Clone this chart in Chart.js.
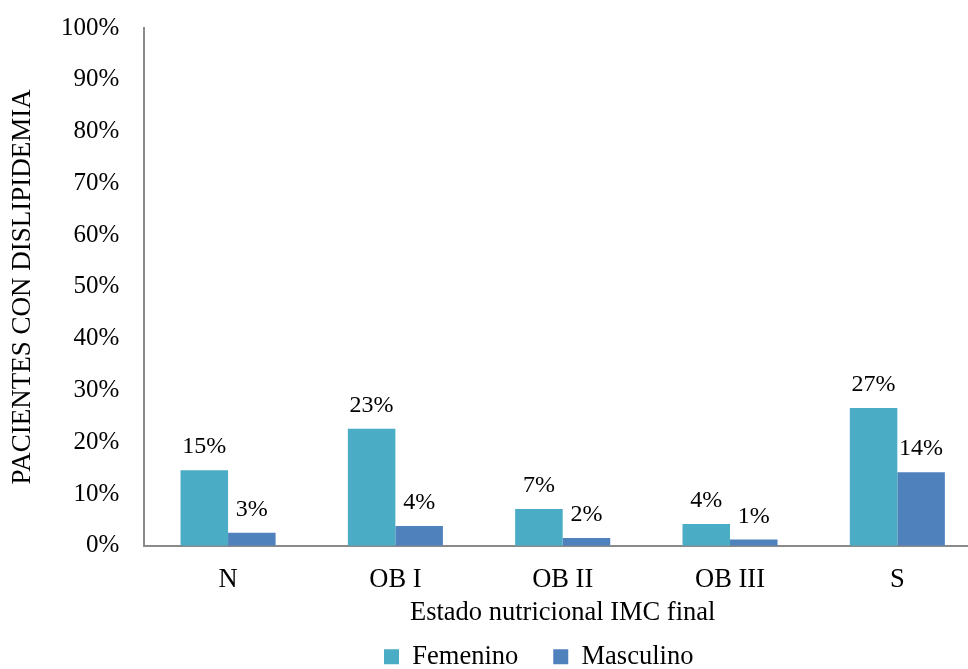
<!DOCTYPE html>
<html>
<head>
<meta charset="utf-8">
<script src="https://cdn.jsdelivr.net/npm/chart.js@4/dist/chart.umd.min.js"></script>
<style>
  html, body { margin: 0; padding: 0; background: #ffffff; overflow: hidden; }
  #wrap { width: 968px; height: 669px; overflow: hidden; }
</style>
</head>
<body>
<div id="wrap"><canvas id="chart" width="981" height="680"></canvas></div>
<script>
// Estado nutricional (IMC final) de pacientes con dislipidemia, por sexo
const categories = ['N', 'OB I', 'OB II', 'OB III', 'S'];
const femenino  = [14.6, 22.6, 7.1, 4.2, 26.6];
const masculino = [2.5, 3.8, 1.5, 1.2, 14.2];
const yTicks = [0, 10, 20, 30, 40, 50, 60, 70, 80, 90, 100];

const FONT = "'Liberation Serif', 'Times New Roman', serif";

// Percent labels written above each bar
const barValueLabels = {
  id: 'barValueLabels',
  afterDatasetsDraw(chart) {
    const ctx = chart.ctx;
    ctx.save();
    ctx.font = '24px ' + FONT;
    ctx.fillStyle = '#000000';
    ctx.textAlign = 'center';
    ctx.textBaseline = 'alphabetic';
    chart.data.datasets.forEach((ds, di) => {
      const meta = chart.getDatasetMeta(di);
      meta.data.forEach((bar, i) => {
        ctx.fillText(Math.round(ds.data[i]) + '%', bar.x, bar.y - 17);
      });
    });
    ctx.restore();
  }
};

// Nudge the legend row a little to the left of the plot centre
const legendShift = {
  id: 'legendShift',
  afterLayout(chart) {
    const lg = chart.legend;
    if (lg) { lg.left -= 24; lg.right -= 24; }
  }
};

new Chart(document.getElementById('chart'), {
  type: 'bar',
  data: {
    labels: categories,
    datasets: [
      { label: 'Femenino', data: femenino, backgroundColor: '#4BACC6', borderWidth: 0 },
      { label: 'Masculino', data: masculino, backgroundColor: '#4F81BD', borderWidth: 0 }
    ]
  },
  options: {
    responsive: false,
    animation: false,
    devicePixelRatio: 1,
    categoryPercentage: 0.568,
    barPercentage: 1.0,
    layout: { padding: { top: 28, left: 0, right: 0, bottom: 0 } },
    plugins: {
      tooltip: { enabled: false },
      legend: {
        position: 'bottom',
        fullSize: false,
        labels: {
          color: '#000000',
          font: { family: FONT, size: 26.5 },
          boxWidth: 15,
          boxHeight: 15,
          padding: 35
        }
      }
    },
    scales: {
      x: {
        grid: { display: false, drawTicks: false },
        border: { display: true, color: '#8a8a8a', width: 2 },
        ticks: {
          color: '#000000',
          font: { family: FONT, size: 26.5 },
          padding: 18,
          maxRotation: 0,
          autoSkip: false
        },
        title: {
          display: true,
          text: 'Estado nutricional IMC final',
          color: '#000000',
          font: { family: FONT, size: 26.5 },
          padding: { top: 0, bottom: -20 }
        },
        afterFit(scale) { scale.height = 62.75; }
      },
      y: {
        min: 0,
        max: 100,
        afterBuildTicks(scale) { scale.ticks = yTicks.map(v => ({ value: v })); },
        // hidden tick marks still reserve the gap between labels and axis line
        grid: { display: false, drawTicks: true, tickLength: 25 },
        border: { display: true, color: '#8a8a8a', width: 2 },
        ticks: {
          color: '#000000',
          font: { family: FONT, size: 25 },
          padding: 0,
          callback: v => v + '%'
        },
        title: {
          display: true,
          text: 'PACIENTES CON DISLIPIDEMIA',
          color: '#000000',
          font: { family: FONT, size: 27 },
          padding: { top: 7, bottom: 0 }
        },
        afterFit(scale) { scale.width = 144.4; }
      }
    }
  },
  plugins: [barValueLabels, legendShift]
});
</script>
</body>
</html>
